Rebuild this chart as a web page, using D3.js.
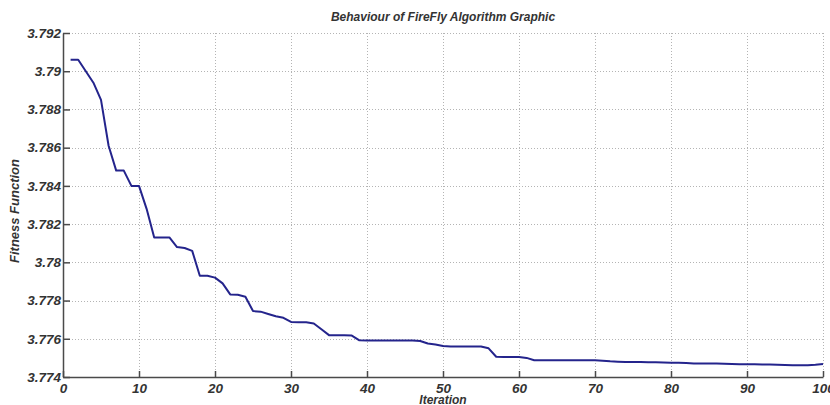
<!DOCTYPE html>
<html>
<head>
<meta charset="utf-8">
<script src="https://cdn.jsdelivr.net/npm/d3@7"></script>
<style>
  body { margin: 0; background: #fff; }
  svg { display: block; }
  text { font-family: "Liberation Sans", Arial, sans-serif; font-weight: bold; font-style: italic; fill: #333; }
</style>
</head>
<body>
<svg></svg>
<script>
const svg = d3.select('svg')
    .attr('width', 830)
    .attr('height', 405)

// fitness value per iteration (1..100)
const fitness = [
  3.79060, 3.79060, 3.79000, 3.78940, 3.78850, 3.78610, 3.78480, 3.78480, 3.78400, 3.78400,
  3.78280, 3.78130, 3.78130, 3.78130, 3.78080, 3.78075, 3.78060, 3.77930, 3.77930, 3.77920,
  3.77890, 3.77832, 3.77830, 3.77820, 3.77745, 3.77742, 3.77730, 3.77718, 3.77710, 3.77688,
  3.77686, 3.77686, 3.77680, 3.77650, 3.77619, 3.77619, 3.77619, 3.77617, 3.77592, 3.77591,
  3.77591, 3.77591, 3.77591, 3.77591, 3.77591, 3.77591, 3.77588, 3.77575, 3.77570, 3.77562,
  3.77560, 3.77560, 3.77560, 3.77560, 3.77560, 3.77550, 3.77506, 3.77505, 3.77505, 3.77505,
  3.77500, 3.77488, 3.77488, 3.77488, 3.77488, 3.77487, 3.77487, 3.77487, 3.77487, 3.77487,
  3.77485, 3.77482, 3.77480, 3.77478, 3.77478, 3.77478, 3.77477, 3.77477, 3.77476, 3.77475,
  3.77474, 3.77473, 3.77471, 3.77470, 3.77470, 3.77470, 3.77469, 3.77468, 3.77467, 3.77467,
  3.77467, 3.77466, 3.77465, 3.77464, 3.77463, 3.77462, 3.77462, 3.77462, 3.77464, 3.77468
];
const iterations = d3.range(1, fitness.length + 1);

const xTicks = [0, 10, 20, 30, 40, 50, 60, 70, 80, 90, 100];
const yTicks = [3.774, 3.776, 3.778, 3.78, 3.782, 3.784, 3.786, 3.788, 3.79, 3.792];
const yTickLabels = ['3.774', '3.776', '3.778', '3.78', '3.782', '3.784', '3.786', '3.788', '3.79', '3.792'];

const plotLeft = 63, plotRight = 823, plotTop = 33, plotBottom = 377;

const x = d3.scaleLinear().domain([0, 100]).range([plotLeft, plotRight]);
const y = d3.scaleLinear().domain([3.774, 3.792]).range([plotBottom, plotTop]);

svg.append('rect')
    .attr('width', 830)
    .attr('height', 405)
    .attr('fill', '#fff');

// dotted grid
svg.selectAll('.vgrid')
    .data(xTicks.slice(1))
    .enter()
    .append('line')
    .attr('x1', d => Math.round(x(d)) + 0.5)
    .attr('x2', d => Math.round(x(d)) + 0.5)
    .attr('y1', plotTop)
    .attr('y2', plotBottom)
    .attr('stroke', '#b4b4b4')
    .attr('stroke-dasharray', '1,2');

svg.selectAll('.hgrid')
    .data(yTicks.slice(1))
    .enter()
    .append('line')
    .attr('x1', plotLeft)
    .attr('x2', plotRight)
    .attr('y1', d => Math.round(y(d)) + 0.5)
    .attr('y2', d => Math.round(y(d)) + 0.5)
    .attr('stroke', '#b4b4b4')
    .attr('stroke-dasharray', '1,2');

// axes, ticks pointing inward like matlab
svg.append('g')
    .attr('transform', `translate(0,${plotBottom})`)
    .call(d3.axisBottom(x).tickValues(xTicks).tickSizeInner(-6).tickSizeOuter(0).tickPadding(6).tickFormat(d3.format('d')));

svg.append('g')
    .attr('transform', `translate(${plotLeft},0)`)
    .call(d3.axisLeft(y).tickValues(yTicks).tickSizeInner(-7).tickSizeOuter(0).tickPadding(2)
        .tickFormat((d, i) => yTickLabels[i]));

svg.selectAll('.domain').attr('stroke', '#4a4a4a').attr('stroke-width', 1.5);
svg.selectAll('.tick line').attr('stroke', '#4a4a4a').attr('stroke-width', 1.5);
svg.selectAll('.tick text')
    .style('font-family', '"Liberation Sans", Arial, sans-serif')
    .style('font-weight', 'bold')
    .style('font-style', 'italic')
    .style('font-size', '13.5px')
    .attr('fill', '#333');

// the curve
const line = d3.line()
    .x((d, i) => x(iterations[i]))
    .y(d => y(d));

svg.append('path')
    .datum(fitness)
    .attr('d', line)
    .attr('fill', 'none')
    .attr('stroke', '#24248c')
    .attr('stroke-width', 2)
    .attr('stroke-linejoin', 'round');

// title and labels
svg.append('text')
    .attr('x', (plotLeft + plotRight) / 2)
    .attr('y', 21)
    .attr('text-anchor', 'middle')
    .style('font-size', '12px')
    .attr('fill', '#222')
    .text('Behaviour of FireFly Algorithm Graphic');

svg.append('text')
    .attr('x', (plotLeft + plotRight) / 2)
    .attr('y', 404)
    .attr('text-anchor', 'middle')
    .style('font-size', '12px')
    .text('Iteration');

svg.append('text')
    .attr('transform', `translate(19,${(plotTop + plotBottom) / 2 + 6}) rotate(-90)`)
    .attr('text-anchor', 'middle')
    .style('font-size', '13px')
    .text('Fitness Function');
</script>
</body>
</html>
